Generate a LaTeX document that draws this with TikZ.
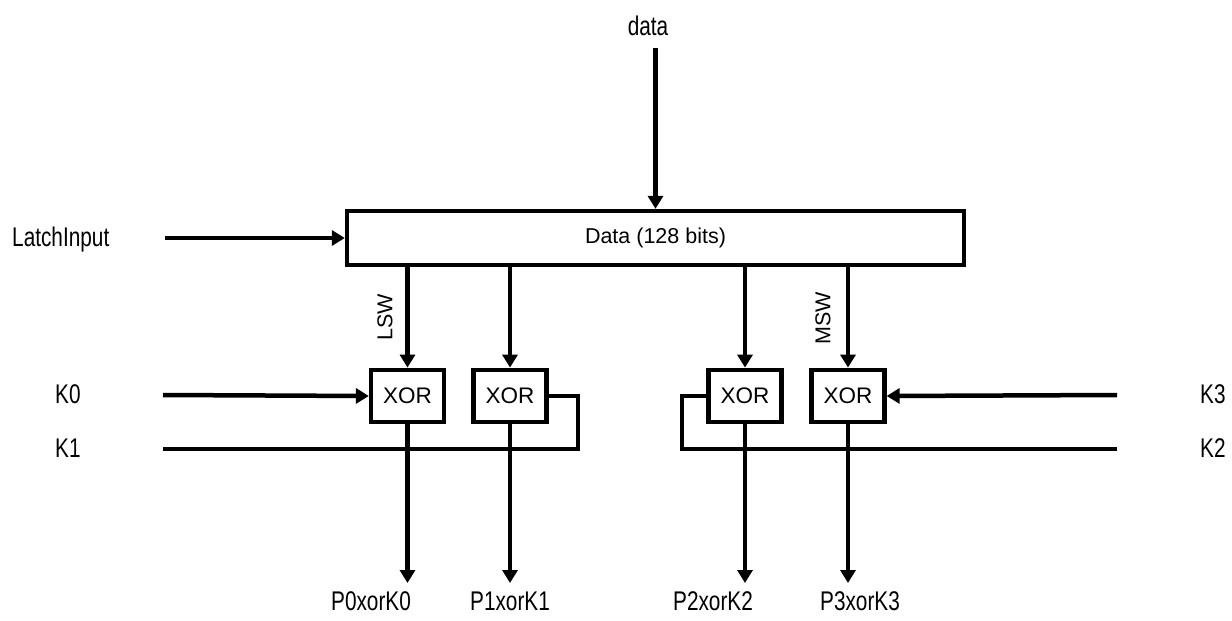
\documentclass[tikz,border=0pt]{standalone}
\usepackage{fontspec}
\setmainfont{Liberation Sans}
\newfontfamily\narrowfont[FakeStretch=0.77]{Liberation Sans}
\usetikzlibrary{arrows.meta}
\begin{document}
\begin{tikzpicture}[x=1pt,y=-1pt,
  wire/.style={line width=4.5pt},
  arr/.style={wire,-{Triangle[length=13pt,width=15pt]}},
  regbox/.style={draw,line width=4.3pt,inner sep=0pt,minimum width=617pt,minimum height=54pt,
    font=\fontsize{21.5}{24}\selectfont},
  xorbox/.style={draw,line width=4.3pt,inner sep=0pt,minimum width=73pt,minimum height=52.5pt,
    font=\fontsize{22.5}{25}\selectfont},
  lbl/.style={inner sep=0pt,font=\narrowfont\fontsize{27}{30}\selectfont},
  wordlbl/.style={inner sep=0pt,rotate=90,font=\fontsize{21.5}{24}\selectfont}]
\useasboundingbox (0,0) rectangle (1232,621);

% register and XOR stages
\node[regbox] (reg) at (655.5,238) {Data (128 bits)};
\node[xorbox] (x0) at (407.5,396) {XOR};
\node[xorbox] (x1) at (510,396) {XOR};
\node[xorbox] (x2) at (745,396) {XOR};
\node[xorbox] (x3) at (848,396) {XOR};

% input labels
\node[lbl,anchor=base] (din) at (648,35) {data};
\node[lbl,anchor=base west] (latch) at (12,246) {LatchInput};
\node[lbl,anchor=base west] (k0) at (55,403) {K0};
\node[lbl,anchor=base west] (k1) at (55,457) {K1};
\node[lbl,anchor=base west] (k3) at (1200,403) {K3};
\node[lbl,anchor=base west] (k2) at (1200,457) {K2};

% word labels
\node[wordlbl] (lsw) at (385,317) {LSW};
\node[wordlbl] (msw) at (823,318) {MSW};

% output labels
\node[lbl,anchor=base] (p0) at (371,610) {P0xorK0};
\node[lbl,anchor=base] (p1) at (510,610) {P1xorK1};
\node[lbl,anchor=base] (p2) at (713,610) {P2xorK2};
\node[lbl,anchor=base] (p3) at (860,610) {P3xorK3};

% free wire ends
\coordinate (dtop) at (655.5,48);
\coordinate (lstart) at (165,238);
\coordinate (k0s) at (163,395);
\coordinate (k1s) at (163,449);
\coordinate (k3s) at (1117,395);
\coordinate (k2s) at (1117,449);
\coordinate (k1turn) at (578,449);
\coordinate (k2turn) at (682,449);
\coordinate (o0) at (407.5,583);
\coordinate (o1) at (510,583);
\coordinate (o2) at (745,583);
\coordinate (o3) at (848,583);

% data and latch inputs
\draw[arr] (dtop) -- (reg.north);
\draw[arr] (lstart) -- (reg.west);

% register words to XOR stages
\foreach \x in {x0,x1,x2,x3}
  \draw[arr] (reg.south -| \x.north) -- (\x.north);

% key inputs
\draw[arr] (k0s) -- (x0.west);
\draw[arr] (k3s) -- (x3.east);
\draw[wire] (k1s) -- (k1turn) |- (x1.east);
\draw[wire] (k2s) -- (k2turn) |- (x2.west);

% results
\draw[arr] (x0.south) -- (o0);
\draw[arr] (x1.south) -- (o1);
\draw[arr] (x2.south) -- (o2);
\draw[arr] (x3.south) -- (o3);
\end{tikzpicture}
\end{document}
